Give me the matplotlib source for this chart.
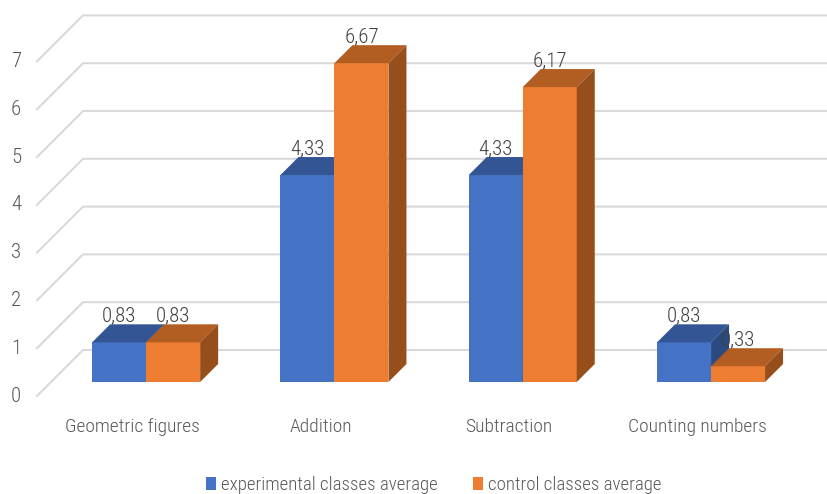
import matplotlib
matplotlib.use("Agg")
import matplotlib.pyplot as plt
from matplotlib.patches import Polygon, Patch

categories = ["Geometric figures", "Addition", "Subtraction", "Counting numbers"]
experimental = [0.83, 4.33, 4.33, 0.83]
control = [0.83, 6.67, 6.17, 0.33]
experimental_labels = ["0,83", "4,33", "4,33", "0,83"]
control_labels = ["0,83", "6,67", "6,17", "0,33"]
y_ticks = [0, 1, 2, 3, 4, 5, 6, 7]
series_names = ["experimental classes average", "control classes average"]

W, H = 828, 494
PX_X0, PX_Y0 = 37.0, 396.0      # pixel position of category edge 0, value 0 on the front plane
PX_CAT, PX_UNIT = 188.3, 47.8   # pixels per category and per value unit
PX_DEPTH = 46.0                 # oblique shift from front plane to back wall
BAR_W = 54.0 / PX_CAT
D_FRONT, D_BACK = 14.0 / PX_DEPTH, 32.0 / PX_DEPTH
DX, DY = PX_DEPTH / PX_CAT, PX_DEPTH / PX_UNIT
NUDGE = 1.0 / PX_CAT            # bars sit slightly right of the band centre

BLUE = ("#4472C4", "#335593", "#2A4A80")
ORANGE = ("#ED7D31", "#B25D22", "#964F1B")
TEXT = "#595959"
FONT = ["Roboto Condensed", "Liberation Sans", "DejaVu Sans"]
WEIGHT = "light"
SIZE = 14
NUM_SIZE = 15
LEGEND_SIZE = 13.6

fig = plt.figure(figsize=(W / 100, H / 100), dpi=100)
ax = fig.add_axes([0, 0, 1, 1])
ax.set_xlim(-PX_X0 / PX_CAT, (W - PX_X0) / PX_CAT)
ax.set_ylim((PX_Y0 - H) / PX_UNIT, PX_Y0 / PX_UNIT)
ax.axis("off")


def proj(x, v, d):
    """Oblique projection of (category x, value v, depth d) into axes data."""
    return (x + d * DX, v + d * DY)


# Back wall lines with their slanted side returns
x_end = (W - PX_X0) / PX_CAT
for v in y_ticks:
    ax.plot(*zip(proj(0, v, 0), proj(0, v, 1), proj(x_end, v, 1)),
            color="#D9D9D9", lw=1.5, zorder=1, solid_joinstyle="miter")
    ax.text(-21 / PX_CAT, v, str(v), ha="center", va="center",
            fontsize=NUM_SIZE, color=TEXT, family=FONT, weight=WEIGHT)


def draw_bar(x0, value, faces):
    x1 = x0 + BAR_W
    front, top, side = faces
    ax.add_patch(Polygon([proj(x0, 0, D_FRONT), proj(x1, 0, D_FRONT),
                          proj(x1, value, D_FRONT), proj(x0, value, D_FRONT)],
                         fc=front, ec="none", zorder=3))
    ax.add_patch(Polygon([proj(x0, value, D_FRONT), proj(x1, value, D_FRONT),
                          proj(x1, value, D_BACK), proj(x0, value, D_BACK)],
                         fc=top, ec="none", zorder=3))
    ax.add_patch(Polygon([proj(x1, 0, D_FRONT), proj(x1, 0, D_BACK),
                          proj(x1, value, D_BACK), proj(x1, value, D_FRONT)],
                         fc=side, ec="none", zorder=3))


LABEL_GAP = 8 / PX_UNIT
for i, cat in enumerate(categories):
    c = i + 0.5 + NUDGE
    draw_bar(c - BAR_W, experimental[i], BLUE)
    draw_bar(c, control[i], ORANGE)
    ax.text(c - 0.5 * BAR_W + D_FRONT * DX, experimental[i] + D_BACK * DY + LABEL_GAP,
            experimental_labels[i], ha="center", va="center",
            fontsize=NUM_SIZE, color="#404040", family=FONT, weight=WEIGHT, zorder=5)
    ax.text(c + 0.5 * BAR_W + D_FRONT * DX, control[i] + D_BACK * DY + LABEL_GAP,
            control_labels[i], ha="center", va="center",
            fontsize=NUM_SIZE, color="#404040", family=FONT, weight=WEIGHT, zorder=5)
    ax.text(c, (PX_Y0 - 427) / PX_UNIT, cat, ha="center", va="center",
            fontsize=SIZE, color=TEXT, family=FONT, weight=WEIGHT)

fig.legend(handles=[Patch(fc=BLUE[0], label=series_names[0]),
                    Patch(fc=ORANGE[0], label=series_names[1])],
           loc="center", bbox_to_anchor=(433.5 / W, 1 - 485 / H), ncol=2, frameon=False,
           prop={"family": FONT, "size": LEGEND_SIZE, "weight": WEIGHT}, labelcolor=TEXT,
           handlelength=0.53, handleheight=0.63, handletextpad=0.26, columnspacing=1.85)

fig.savefig("out.png", dpi=100)
